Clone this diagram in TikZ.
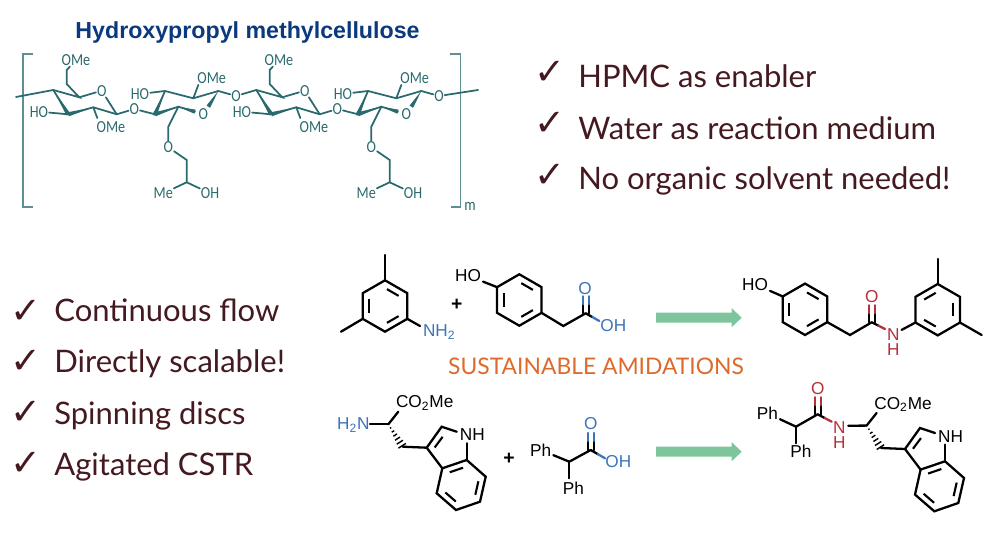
\documentclass[tikz,border=0pt]{standalone}
\usepackage{fontspec}
\setmainfont{Liberation Sans}
\newfontfamily\listfont{Lato}
\newfontfamily\sugarfont[FakeStretch=0.84]{Carlito}
\newfontfamily\checkfont{DejaVu Sans}
\usetikzlibrary{calc, arrows}
\definecolor{titleblue}{HTML}{0B3A7C}
\definecolor{sugarteal}{HTML}{2A6A6E}
\definecolor{listbrown}{HTML}{44191F}
\definecolor{acidblue}{HTML}{3B74B8}
\definecolor{amidered}{HTML}{B5303A}
\definecolor{amideorange}{HTML}{DD6A2C}
\definecolor{arrowgreen}{HTML}{7EC59B}
\tikzstyle{title} = [font=\fontsize{13.2}{15}\selectfont\bfseries,text=titleblue,inner sep=0pt]
\tikzstyle{item} = [font=\listfont\fontsize{17.65}{20}\selectfont,text=listbrown,anchor=base west,inner sep=0pt]
\tikzstyle{tick} = [font=\checkfont\fontsize{21}{24}\selectfont,text=listbrown,inner sep=0pt]
\tikzstyle{sugar} = [font=\sugarfont\fontsize{9.6}{11}\selectfont,text=sugarteal,inner sep=0.4pt]
\tikzstyle{atom} = [font=\fontsize{9.8}{11}\selectfont,text=black,inner sep=1pt]
\tikzstyle{sbond} = [line width=1pt,draw=sugarteal,line cap=round]
\tikzstyle{bond} = [line width=1.3pt,draw=black,line cap=round]
\tikzstyle{inner} = [line width=1.2pt,draw=black,shorten >=1.3pt,shorten <=1.3pt]
\tikzstyle{bracket} = [line width=0.8pt,draw=sugarteal!75]
\tikzstyle{greenarrow} = [draw=none,fill=arrowgreen]
% ring of six with the inner lines on the edges given in #4
\newcommand{\hexring}[4]{
	\coordinate (#1c) at (#2,#3);
	\foreach \i/\a in {1/-90,2/-30,3/30,4/90,5/150,6/210}
		\coordinate (#1\i) at ($(#1c)+(\a:25.7)$);
	\draw [bond] (#11) -- (#12) -- (#13) -- (#14) -- (#15) -- (#16) -- cycle;
	\foreach \p/\q in {#4}
		\draw [inner] ($(#1\p)!.3!(#1c)$) -- ($(#1\q)!.3!(#1c)$);
}
% C=O going straight up, black first and coloured after
\newcommand{\carbonyl}[2]{
	\foreach \d in {-3,3} {
		\draw [bond] ($(#1)+(\d,0)$) -- ($(#1)+(\d,-9)$);
		\draw [bond,#2] ($(#1)+(\d,-9)$) -- ($(#1)+(\d,-17)$);
	}
}
\newcommand{\halfbond}[3]{
	\draw [bond] (#1) -- ($(#1)!.5!(#2)$);
	\draw [bond,#3] ($(#1)!.5!(#2)$) -- (#2);
}
% thin at #1, wide at #2
\newcommand{\wedgebond}[3]{
	\fill [#3] (#1) -- ($(#2)!1.2pt!90:(#1)$) -- ($(#2)!1.2pt!-90:(#1)$) -- cycle;
}
\newcommand{\blockarrow}[1]{
	\fill [greenarrow] ($(#1)+(0,-5)$) -- ++(75.7,0) -- ++(0,-4.5) -- ++(10,9.5) -- ++(-10,9.5) -- ++(0,-4.5) -- ++(-75.7,0) -- cycle;
}
\begin{document}
\begin{tikzpicture}[x=0.02cm,y=-0.02cm]
	\useasboundingbox (0,0) rectangle (1000,536);

	\node (polytitle) [title] at (247.5,32.5) {Hydroxypropyl methylcellulose};

	%polymer brackets
	\coordinate (brl1) at (33,54);
	\coordinate (brl2) at (23,54);
	\coordinate (brl3) at (23,207);
	\coordinate (brl4) at (33,207);
	\coordinate (brr1) at (450,54);
	\coordinate (brr2) at (460.7,54);
	\coordinate (brr3) at (460.7,207);
	\coordinate (brr4) at (450.7,207);
	\draw [bracket] (brl1) -- (brl2) -- (brl3) -- (brl4);
	\draw [bracket] (brr1) -- (brr2) -- (brr3) -- (brr4);
	\node (repeat) [sugar] at (470,206) {m};

	%two repeat units, second one shifted by 203
	\foreach \u/\dx in {a/0,b/203} {
		\begin{scope}[shift={(\dx,0)},name prefix=\u-]
			\coordinate (c4) at (53.3,90);
			\coordinate (c5) at (79.3,97.3);
			\coordinate (c1) at (116.7,114.3);
			\coordinate (c2) at (93.3,107.3);
			\coordinate (c3) at (68.3,114.3);
			\coordinate (c6) at (66.7,84);
			\coordinate (c7) at (66.7,70);
			\coordinate (d1) at (155,114.3);
			\coordinate (d2) at (178.3,106.7);
			\coordinate (d3) at (218.3,91);
			\coordinate (d4) at (193.3,98.3);
			\coordinate (d5) at (165,91);
			\coordinate (d6) at (168.3,126.7);
			\coordinate (e1) at (186.7,160);
			\coordinate (e2) at (186.7,182.3);
			\coordinate (o2b) at (195,111.7);
			\coordinate (o2w) at (208.3,106.7);
			\node (o1) [sugar] at (101.7,90.7) {O};
			\node (ome1) [sugar] at (76,60) {OMe};
			\node (ho1) [sugar] at (39,111.7) {HO};
			\node (ome2) [sugar] at (111,127.3) {OMe};
			\coordinate (omeb2) at (97.3,118);
			\node (link) [sugar] at (134.3,109) {O};
			\node (ho2) [sugar] at (140,94) {HO};
			\node (ome3) [sugar] at (211.7,78.3) {OMe};
			\coordinate (omeb3) at (198.3,85);
			\node (o2) [sugar] at (203.3,114) {O};
			\node (o3) [sugar] at (236,96) {O};
			\node (o4) [sugar] at (168.3,147.3) {O};
			\node (me) [sugar] at (163.3,193.3) {Me};
			\node (oh) [sugar] at (210,193.3) {OH};

			\draw [sbond] (ome1) -- (c7) -- (c6) -- (c5) -- (c4);
			\draw [sbond] (c5) -- (o1) -- (c1);
			\draw [sbond] (c4) -- (c3) -- (c2) -- (c1);
			\wedgebond{c4}{c3}{sugarteal}
			\wedgebond{c2}{c3}{sugarteal}
			\draw [sbond] (ho1) -- (c3);
			\draw [sbond] (c2) -- (omeb2);
			\draw [sbond] (c1) -- (link) -- (d1);
			\draw [sbond] (d5) -- (d1) -- (d2) -- (o2b);
			\wedgebond{d5}{d1}{sugarteal}
			\wedgebond{d2}{d1}{sugarteal}
			\wedgebond{d2}{o2b}{sugarteal}
			\draw [sbond] (d5) -- (d4) -- (d3);
			\wedgebond{d3}{o2w}{sugarteal}
			\draw [sbond] (ho2) -- (d5);
			\draw [sbond] (d4) -- (omeb3);
			\draw [sbond] (d3) -- (o3);
			\draw [sbond] (d2) -- (d6) -- (o4) -- (e1) -- (e2) -- (me);
			\draw [sbond] (e2) -- (oh);
		\end{scope}
	}
	\coordinate (chainl) at (16,97);
	\coordinate (chainr) at (478,90);
	\draw [sbond] (chainl) -- (a-c4);
	\draw [sbond] (a-o3) -- (b-c4);
	\draw [sbond] (b-o3) -- (chainr);

	%text lists
	\node (tick1) [tick] at (550,73) {✓};
	\node (tick2) [tick] at (550,124) {✓};
	\node (tick3) [tick] at (550,176) {✓};
	\node (hpmc) [item] at (578,87.5) {HPMC as enabler};
	\node (water) [item] at (578,139.5) {Water as reaction medium};
	\node (organic) [item] at (578,190) {No organic solvent needed!};
	\node (tick4) [tick] at (26,312) {✓};
	\node (tick5) [tick] at (26,362) {✓};
	\node (tick6) [tick] at (26,413) {✓};
	\node (tick7) [tick] at (26,464) {✓};
	\node (flow) [item] at (54,322) {Continuous flow};
	\node (scale) [item] at (54,373) {Directly scalable!};
	\node (disc) [item] at (54,424) {Spinning discs};
	\node (cstr) [item] at (54,475) {Agitated CSTR};

	\node (amid) [font=\listfont\fontsize{13}{15}\selectfont,text=amideorange,inner sep=0pt] at (596,366) {SUSTAINABLE AMIDATIONS};

	%first reaction
	\hexring{xa}{385}{306}{1/2,3/4,5/6}
	\coordinate (xam1) at (385,255);
	\coordinate (xam2) at (341,331.7);
	\coordinate (xan) at (420,326);
	\node (nhtwo) [atom,text=acidblue,anchor=west,inner sep=0pt] at (422.7,332) {NH\textsubscript{2}};
	\draw [bond] (xa1) -- (xam1);
	\draw [bond] (xa5) -- (xam2);
	\draw [bond] (xa3) -- (xan);
	\node (plusa) [atom,font=\bfseries\fontsize{11}{12}\selectfont] at (456.7,305) {+};

	\hexring{ha}{519.3}{300}{1/2,3/4,5/6}
	\node (hoa) [atom] at (468,275.7) {HO};
	\draw [bond] (ha6) -- (hoa);
	\coordinate (hach) at (563.3,326);
	\coordinate (hacc) at (585.7,313.3);
	\coordinate (hax) at (599.3,321);
	\node (oa) [atom,text=acidblue] at (585,288.3) {O};
	\node (oha) [atom,text=acidblue] at (613.3,326) {OH};
	\draw [bond] (ha3) -- (hach) -- (hacc);
	\carbonyl{hacc}{acidblue}
	\halfbond{hacc}{hax}{acidblue}

	\coordinate (arrowa) at (656,317.7);
	\blockarrow{arrowa}

	\hexring{hb}{805}{309.3}{1/2,3/4,5/6}
	\node (hob) [atom] at (755,284.3) {HO};
	\draw [bond] (hb6) -- (hob);
	\coordinate (hbch) at (850,335);
	\coordinate (hbcc) at (871.7,322.3);
	\coordinate (hbx) at (885,329);
	\node (ob) [atom,text=amidered] at (871.7,296.7) {O};
	\node (nb) [atom,text=amidered] at (893.3,334.3) {N};
	\node (hnb) [atom,text=amidered] at (893.3,350) {H};
	\draw [bond] (hb3) -- (hbch) -- (hbcc);
	\carbonyl{hbcc}{amidered}
	\halfbond{hbcc}{hbx}{amidered}
	\hexring{xb}{937.7}{309.7}{6/1,2/3,4/5}
	\coordinate (xbm1) at (937.7,259);
	\coordinate (xbm2) at (981.7,335);
	\draw [bond] (nb) -- (xb5);
	\draw [bond] (xb1) -- (xbm1);
	\draw [bond] (xb3) -- (xbm2);

	%second reaction, the same tryptophan part twice
	\foreach \u/\dx/\dy in {p/0/0,q/478.3/1.3} {
		\begin{scope}[shift={(\dx,\dy)},name prefix=\u-]
			\coordinate (star) at (388.3,424.3);
			\coordinate (ester) at (398.3,411.7);
			\coordinate (hash) at (402.7,446.7);
			\coordinate (c3) at (426.7,447.7);
			\coordinate (c2) at (441.7,426.7);
			\coordinate (cn) at (456.7,431.7);
			\coordinate (nc) at (466.7,443.3);
			\coordinate (c7a) at (466.7,460);
			\coordinate (c3a) at (442.3,468.3);
			\coordinate (c7) at (485.7,476.7);
			\coordinate (c6) at (480,501.7);
			\coordinate (c5) at (456,510);
			\coordinate (c4) at (436.7,493.3);
			\coordinate (cc) at (461.4,485);
			\coordinate (i1) at (444,435);
			\coordinate (i2) at (433.3,449.3);
			\node (co) [atom,anchor=west,inner sep=0pt] at (395.7,403.3) {CO\textsubscript{2}Me};
			\node (nh) [atom] at (472.3,435) {NH};
			\draw [bond] (star) -- (ester);
			\foreach \t in {.16,.32,.48,.64,.8,.96}
				\draw [line width=0.8pt] ($(star)!\t!($(hash)!2.6pt!90:(star)$)$) -- ($(star)!\t!($(hash)!2.6pt!-90:(star)$)$);
			\draw [bond] (hash) -- (c3) -- (c2) -- (cn);
			\draw [bond] (nc) -- (c7a);
			\draw [bond] (c7a) -- (c7) -- (c6) -- (c5) -- (c4) -- (c3a) -- cycle;
			\draw [bond] (c3) -- (c3a);
			\draw [inner] (i1) -- (i2);
			\foreach \m/\n in {c3a/c7a,c7/c6,c5/c4}
				\draw [inner] ($(\m)!.28!(cc)$) -- ($(\n)!.28!(cc)$);
		\end{scope}
	}
	\node (hzn) [atom,text=acidblue] at (353.3,425) {H\textsubscript{2}N};
	\coordinate (hznb) at (370,424.3);
	\draw [bond] (hznb) -- (p-star);
	\node (plusb) [atom,font=\bfseries\fontsize{11}{12}\selectfont] at (509,459) {+};

	\coordinate (pch) at (569.3,461.7);
	\coordinate (pcc) at (590.7,450);
	\coordinate (pcx) at (605,458.3);
	\coordinate (pphb) at (569.3,478.3);
	\node (pha) [atom] at (540.7,450) {Ph};
	\node (phb) [atom] at (573.3,488.3) {Ph};
	\node (oc) [atom,text=acidblue] at (590.7,423.3) {O};
	\node (ohc) [atom,text=acidblue] at (618.3,461.7) {OH};
	\draw [bond] (pha) -- (pch) -- (pcc);
	\draw [bond] (pch) -- (pphb);
	\carbonyl{pcc}{acidblue}
	\halfbond{pcc}{pcx}{acidblue}

	\coordinate (arrowb) at (656,451.7);
	\blockarrow{arrowb}

	\coordinate (qch) at (796,426.7);
	\coordinate (qcc) at (817.7,414.3);
	\coordinate (qcx) at (831.7,421.7);
	\coordinate (qphb) at (796,443.3);
	\coordinate (qnb) at (848.3,425.7);
	\node (phc) [atom] at (767.3,413.3) {Ph};
	\node (phd) [atom] at (801,451.7) {Ph};
	\node (od) [atom,text=amidered] at (817.7,388.3) {O};
	\node (nd) [atom,text=amidered] at (839.3,427.7) {N};
	\node (hnd) [atom,text=amidered] at (839.3,442.3) {H};
	\draw [bond] (phc) -- (qch) -- (qcc);
	\draw [bond] (qch) -- (qphb);
	\carbonyl{qcc}{amidered}
	\halfbond{qcc}{qcx}{amidered}
	\draw [bond] (qnb) -- (q-star);
\end{tikzpicture}
\end{document}
